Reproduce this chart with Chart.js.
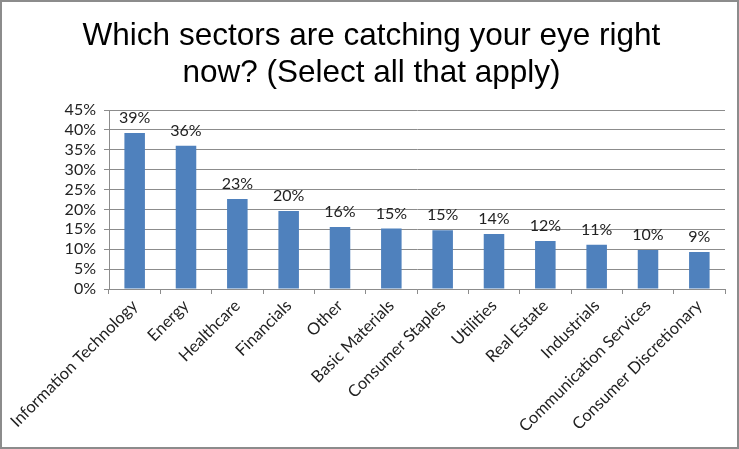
<!DOCTYPE html>
<html>
<head>
<meta charset="utf-8">
<script src="https://cdn.jsdelivr.net/npm/chart.js@4.4.1/dist/chart.umd.min.js"></script>
<style>
  html, body { margin: 0; padding: 0; background: #fff; }
  canvas { display: block; }
</style>
</head>
<body>
<canvas id="sectorChart" width="739" height="449"></canvas>
<script>
// survey answers, percent of respondents
var sectors = ['Information Technology', 'Energy', 'Healthcare', 'Financials', 'Other',
    'Basic Materials', 'Consumer Staples', 'Utilities', 'Real Estate', 'Industrials',
    'Communication Services', 'Consumer Discretionary'];
var sharePct = [39.2, 36.0, 22.6, 19.6, 15.6, 15.2, 14.8, 13.8, 12.1, 11.1, 9.8, 9.3];
var titleLines = ['Which sectors are catching your eye right', 'now? (Select all that apply)'];
var yMax = 45;
var yStep = 5;

//draws the rounded percent above each bar
var barLabels = {
    id: 'barLabels',
    afterDatasetsDraw: function(chart) {
        var ctx = chart.ctx;
        var meta = chart.getDatasetMeta(0);
        ctx.save();
        ctx.font = '16px Lato';
        ctx.fillStyle = '#222';
        ctx.textAlign = 'center';
        ctx.textBaseline = 'alphabetic';
        meta.data.forEach(function(bar, i) {
            ctx.fillText(Math.round(sharePct[i]) + '%', bar.x, bar.y - 10);
        });
        ctx.restore();
    }
};

//white background and grey frame round the whole picture,
//title is centred on the whole picture, not on the padded box
var frame = {
    id: 'frame',
    afterLayout: function(chart) {
        var tb = chart.titleBlock;
        tb.left += 9;
        tb.right += 9;
    },
    beforeDraw: function(chart) {
        var ctx = chart.ctx;
        ctx.save();
        ctx.fillStyle = '#fff';
        ctx.fillRect(0, 0, chart.width, chart.height);
        ctx.strokeStyle = '#8c8c8c';
        ctx.lineWidth = 2;
        ctx.strokeRect(1, 1, chart.width - 2, chart.height - 2);
        ctx.restore();
    }
};

var chrt = document.getElementById('sectorChart').getContext('2d');
var config = {
    type: 'bar',
    data: {
        labels: sectors,
        datasets: [{
            data: sharePct,
            backgroundColor: '#4f81bd',
            categoryPercentage: 1,
            barPercentage: 0.4
        }]
    },
    options: {
        responsive: false,
        animation: false,
        layout: {
            padding: { left: 0, right: 14, top: 0, bottom: 0 }
        },
        plugins: {
            legend: { display: false },
            tooltip: { enabled: false },
            title: {
                display: true,
                text: titleLines,
                color: '#000',
                font: { family: 'Liberation Sans', size: 31.5, weight: 'normal', lineHeight: 1.175 },
                padding: { top: 18, bottom: 18 }
            }
        },
        scales: {
            x: {
                afterFit: function(scale) { scale.height = 160; },
                grid: {
                    drawOnChartArea: false,
                    drawTicks: true,
                    tickLength: 5,
                    color: '#8c8c8c'
                },
                border: { color: '#8c8c8c' },
                ticks: {
                    color: '#222',
                    font: { family: 'Lato', size: 16.5 },
                    minRotation: 45,
                    maxRotation: 45,
                    autoSkip: false,
                    padding: 2
                }
            },
            y: {
                min: 0,
                max: yMax,
                afterFit: function(scale) { scale.width = 109; },
                grid: {
                    color: '#8c8c8c',
                    tickLength: 5
                },
                border: { color: '#8c8c8c' },
                ticks: {
                    stepSize: yStep,
                    autoSkip: false,
                    color: '#222',
                    font: { family: 'Lato', size: 16 },
                    padding: 8,
                    callback: function(v) { return v + '%'; }
                }
            }
        }
    },
    plugins: [frame, barLabels]
};

var sectorChart = new Chart(chrt, config);
</script>
</body>
</html>
